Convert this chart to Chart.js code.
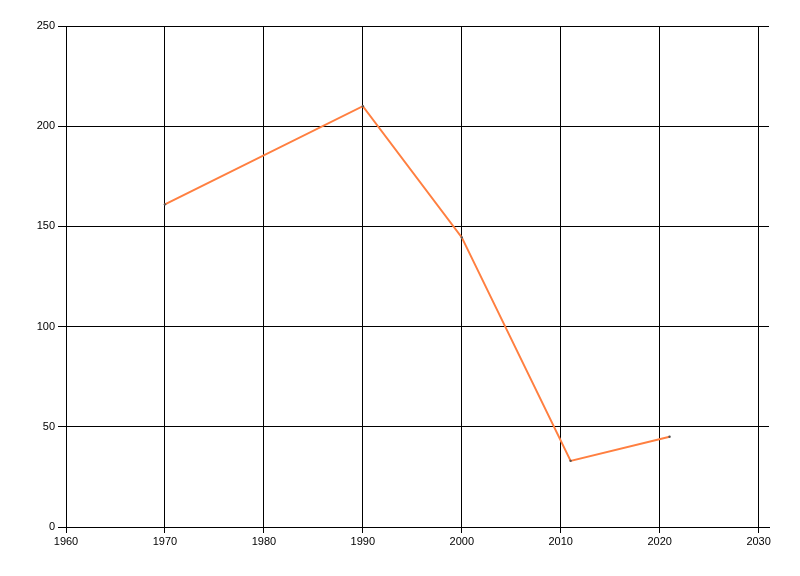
<!DOCTYPE html>
<html>
<head>
<meta charset="utf-8">
<script src="https://cdn.jsdelivr.net/npm/chart.js@4/dist/chart.umd.min.js"></script>
<style>
html,body{margin:0;padding:0;background:#fff;}
#wrap{width:800px;height:576px;}
</style>
</head>
<body>
<div id="wrap"><canvas id="c" width="800" height="576"></canvas></div>
<script>
const years = [1970, 1990, 2000, 2011, 2021];
const values = [161, 210, 144.5, 33, 45];
const xTickMin = 1960, xTickMax = 2030, xStep = 10;
const yTickMin = 0, yTickMax = 250, yStep = 50;

const points = years.map((y, i) => ({x: y, y: values[i]}));

new Chart(document.getElementById('c'), {
  type: 'line',
  data: {
    datasets: [{
      data: points,
      borderColor: '#FF7F40',
      borderWidth: 2,
      pointRadius: 1.2,
      pointBackgroundColor: '#555',
      pointBorderWidth: 0,
      tension: 0,
      fill: false
    }]
  },
  options: {
    responsive: false,
    animation: false,
    devicePixelRatio: 1,
    layout: {padding: {top: 26, right: 31, left: 0, bottom: 0}},
    plugins: {legend: {display: false}, tooltip: {enabled: false}},
    scales: {
      x: {
        type: 'linear',
        min: xTickMin,
        max: xTickMax + 1.05,
        afterFit: s => { s.height = 49; },
        grid: {color: '#000', lineWidth: 1, tickLength: 6, tickColor: '#000'},
        border: {color: '#000', width: 1},
        ticks: {
          stepSize: xStep,
          includeBounds: false,
          color: '#000',
          padding: 2,
          maxRotation: 0,
          autoSkip: false,
          font: {family: 'Liberation Sans', size: 11},
          callback: v => String(v)
        }
      },
      y: {
        min: yTickMin,
        max: yTickMax,
        afterFit: s => { s.width = 66; },
        grid: {color: '#000', lineWidth: 1, tickLength: 8, tickColor: '#000'},
        border: {color: '#000', width: 1},
        ticks: {
          stepSize: yStep,
          color: '#000',
          padding: 3,
          font: {family: 'Liberation Sans', size: 11}
        }
      }
    }
  }
});
</script>
</body>
</html>
